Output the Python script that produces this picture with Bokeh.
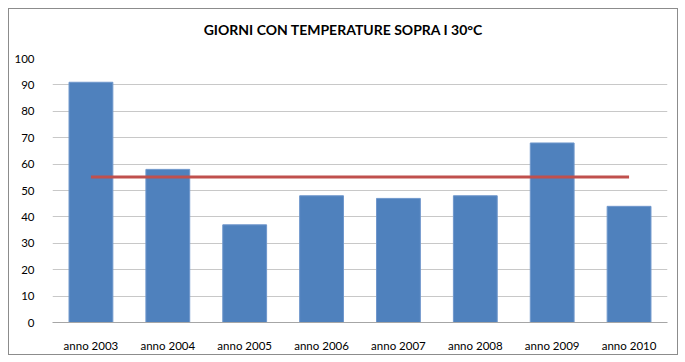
from bokeh.plotting import figure
from bokeh.models import FactorRange, Range1d, FixedTicker, Div
from bokeh.layouts import column
from bokeh.embed import file_html
from bokeh.resources import INLINE

categories = ["anno 2003", "anno 2004", "anno 2005", "anno 2006",
              "anno 2007", "anno 2008", "anno 2009", "anno 2010"]
giorni = [91, 58, 37, 48, 47, 48, 68, 44]
media = [55.1, 55.1, 55.1, 55.1, 55.1, 55.1, 55.1, 55.1]
y_ticks = [0, 10, 20, 30, 40, 50, 60, 70, 80, 90, 100]
titolo = "GIORNI CON TEMPERATURE SOPRA I 30°C"

FONT = "Lato"

header = Div(text=titolo, width=668, height=41, margin=(0, 0, 0, 0),
             styles={"font-family": FONT, "font-size": "14px",
                     "font-weight": "bold", "color": "#000000",
                     "text-align": "center", "line-height": "17px",
                     "overflow": "hidden"},
             stylesheets=[":host { display: block; } div { padding-top: 12px; }"])

p = figure(width=668, height=304, output_backend="svg", toolbar_location=None,
           x_range=FactorRange(*categories, range_padding=0),
           y_range=Range1d(0, 100),
           min_border_left=43, min_border_right=10, min_border_top=8,
           min_border_bottom=30)
p.margin = (0, 0, 0, 0)

p.vbar(x=categories, top=giorni, width=0.57, fill_color="#4f81bd",
       line_color="#6f97cc", line_width=1)
p.line(x=categories, y=media, line_color="#c0504d", line_width=3)

p.outline_line_color = None
p.xgrid.grid_line_color = None
p.ygrid.grid_line_color = "#c8c8c8"
p.ygrid.grid_line_width = 1.2
p.yaxis.ticker = FixedTicker(ticks=y_ticks)

p.yaxis.axis_line_color = None
p.yaxis.major_tick_line_color = None
p.yaxis.minor_tick_line_color = None
p.yaxis.major_label_standoff = 12
p.yaxis.major_label_text_font = FONT
p.yaxis.major_label_text_font_size = "11.5px"
p.yaxis.major_label_text_color = "#000000"

p.xaxis.axis_line_color = "#a6a6a6"
p.xaxis.axis_line_width = 1.2
p.xaxis.major_tick_line_color = None
p.xaxis.minor_tick_line_color = None
p.xaxis.major_label_standoff = 10
p.xaxis.major_label_text_font = FONT
p.xaxis.major_label_text_font_size = "11.5px"
p.xaxis.major_label_text_color = "#000000"

layout = column(header, p, spacing=0)
layout.styles = {"border": "1px solid #8c8c8c", "margin-left": "8px",
                 "margin-top": "8px", "background-color": "#ffffff"}

open("out.html", "w").write(file_html(layout, INLINE))
